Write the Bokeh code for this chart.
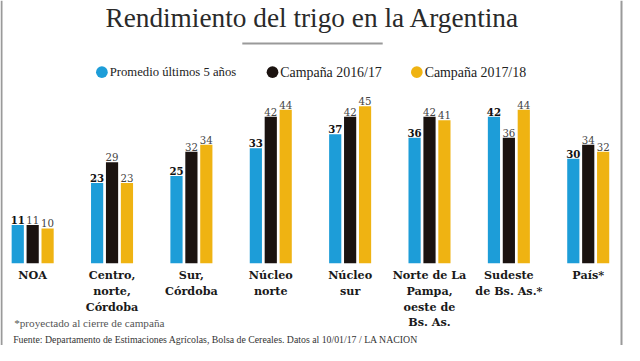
from bokeh.plotting import figure
from bokeh.models import Range1d, ColumnDataSource, BoxAnnotation
from bokeh.transform import dodge
from bokeh.core.properties import value
from bokeh.embed import file_html
from bokeh.resources import INLINE

# ---- data ----
regions = ["NOA", "Centro,\nnorte,\nCórdoba", "Sur,\nCórdoba", "Núcleo\nnorte", "Núcleo\nsur",
           "Norte de La\nPampa,\noeste de\nBs. As.", "Sudeste\nde Bs. As.*", "País*"]
promedio = [11, 23, 25, 33, 37, 36, 42, 30]
camp_1617 = [11, 29, 32, 42, 42, 42, 36, 34]
camp_1718 = [10, 23, 34, 44, 45, 41, 44, 32]
series_names = ["Promedio últimos 5 años", "Campaña 2016/17", "Campaña 2017/18"]
colors = ["#1d9dd8", "#1b1310", "#efb312"]

title = "Rendimiento del trigo en la Argentina"
footnote = "*proyectado al cierre de campaña"
source_txt = "Fuente: Departamento de Estimaciones Agrícolas, Bolsa de Cereales. Datos al 10/01/17 / LA NACION"

# ---- layout (reference is 640x361; figure is scaled to fit) ----
W, H = 624, 345
sx, sy = W / 640, H / 361
GROUP_PX = 81.4      # px between group centres (reference)
FIRST_PX = 33.0      # first group centre (reference)
UNIT_PX = 3.65       # px per value unit (reference)
BASE_PX = 275.0      # baseline y (reference, from top)

x_start = -FIRST_PX / GROUP_PX
x_end = x_start + 640 / GROUP_PX
y_start = -(361 - BASE_PX) / UNIT_PX
y_end = y_start + 361 / UNIT_PX

def X(px):   # reference px -> data x
    return (px - FIRST_PX) / GROUP_PX

def Y(px):   # reference px from top -> data y
    return (BASE_PX - px) / UNIT_PX

p = figure(width=W, height=H, output_backend="svg", toolbar_location=None,
           x_range=Range1d(x_start, x_end), y_range=Range1d(y_start, y_end),
           min_border=0, min_border_left=0, min_border_right=0,
           min_border_top=0, min_border_bottom=0)
p.axis.visible = False
p.xgrid.visible = False
p.ygrid.visible = False
p.outline_line_color = None
p.background_fill_color = "white"
p.border_fill_color = "white"

idx = list(range(len(regions)))
src = ColumnDataSource(dict(x=idx, region=regions, a=promedio, b=camp_1617, c=camp_1718,
                            at=[str(v) for v in promedio], bt=[str(v) for v in camp_1617],
                            ct=[str(v) for v in camp_1718]))

off = 15.3 / GROUP_PX
bw = 12.5 / GROUP_PX
fs = lambda v: f"{v * sx:.1f}px"

for col, o, color, lab, bold in [("a", -off, colors[0], "at", True),
                                 ("b", 0.0, colors[1], "bt", False),
                                 ("c", off, colors[2], "ct", False)]:
    p.vbar(x=dodge("x", o, range=p.x_range), top=col, bottom=0, width=bw,
           source=src, fill_color=color, line_color=None)
    p.text(x=dodge("x", o, range=p.x_range), y=col, text=lab, source=src,
           text_align="center", text_baseline="bottom", y_offset=-1,
           text_font=value("DejaVu Serif"), text_font_size=fs(10.5),
           text_font_style="bold" if bold else "normal",
           text_color="#111111" if bold else "#444444")

# category labels
p.text(x="x", y=0, text="region", source=src, text_align="center", text_baseline="top",
       y_offset=5, text_font=value("DejaVu Serif"), text_font_size=fs(11.5),
       text_font_style="bold", text_color="#1a1a1a", text_line_height=1.12)

# title
p.text(x=[X(320)], y=[Y(18)], text=[title], text_align="center", text_baseline="middle",
       text_font=value("Liberation Serif"), text_font_size=fs(28), text_color="#2a2a2a")
# rule under title
p.segment(x0=[X(248)], y0=[Y(45)], x1=[X(392)], y1=[Y(45)], line_color="#9a9a9a", line_width=2)

# legend
leg_x = [104, 279, 427]
leg_sizes = [13, 14.3, 14.3]
for lx, name, color, size in zip(leg_x, series_names, colors, leg_sizes):
    p.scatter(x=[X(lx)], y=[Y(75)], size=12 * sx, marker="circle", fill_color=color, line_color=None)
    p.text(x=[X(lx + 8)], y=[Y(75)], text=[name], text_align="left", text_baseline="middle",
           text_font=value("Liberation Serif"), text_font_size=fs(size), text_color="#222222")

# footnote and source
p.text(x=[X(14)], y=[Y(337)], text=[footnote], text_align="left", text_baseline="middle",
       text_font=value("Liberation Serif"), text_font_size=fs(11.5), text_color="#555555")
p.text(x=[X(13)], y=[Y(355)], text=[source_txt], text_align="left", text_baseline="middle",
       text_font=value("Liberation Serif"), text_font_size=fs(10), text_color="#333333")

# thin grey frame at left / right edges
p.add_layout(BoxAnnotation(left=0, right=2, left_units="screen", right_units="screen",
                           fill_color="#9a9a9a", fill_alpha=1, line_color=None))
p.add_layout(BoxAnnotation(left=int(636 * sx), right=int(638 * sx), left_units="screen",
                           right_units="screen", fill_color="#9a9a9a", fill_alpha=1, line_color=None))

open("out.html", "w").write(file_html(p, INLINE))
